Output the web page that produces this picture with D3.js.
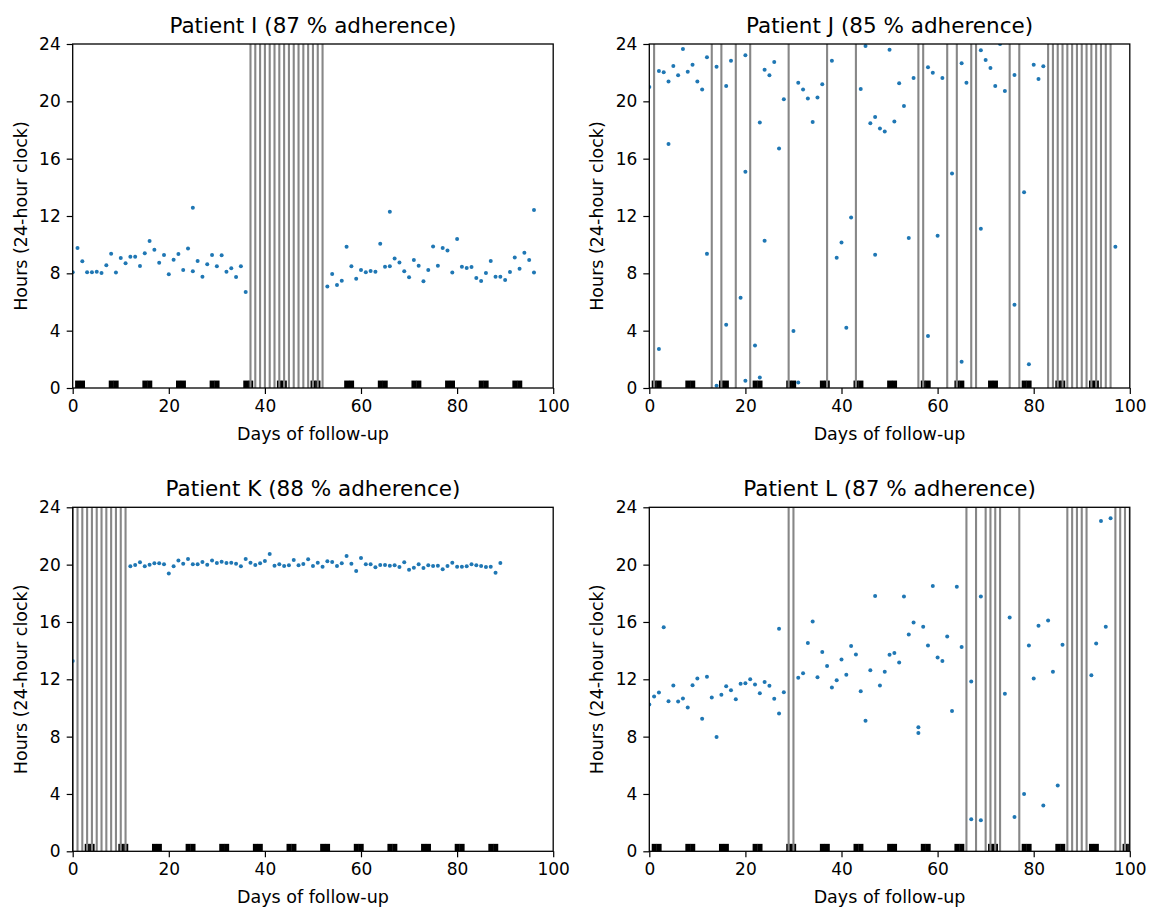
<!DOCTYPE html>
<html>
<head>
<meta charset="utf-8">
<script src="https://cdn.jsdelivr.net/npm/d3@7"></script>
<style>
  body { margin: 0; background: #fff; }
  text { font-family: "DejaVu Sans", sans-serif; fill: #000; }
</style>
</head>
<body>
<div id="chart"></div>
<script>
// tick labels
var dayTicks = [0, 20, 40, 60, 80, 100];
var hourTicks = [0, 4, 8, 12, 16, 20, 24];

// [day, hour of intake] per patient
var iDoses = [
  [0,8.07],[1,9.77],[2,8.84],[3,8.07],[4,8.07],[5,8.11],[6,8.02],[7,8.56],[8,9.37],[9,8.05],
  [10,9.07],[11,8.70],[12,9.16],[13,9.16],[14,8.51],[15,9.40],[16,10.26],[17,9.65],[18,8.74],[19,9.28],
  [20,7.93],[21,8.95],[22,9.35],[23,8.23],[24,9.74],[25,12.58],[25,8.14],[26,8.86],[27,7.77],[28,8.63],
  [29,9.28],[30,8.49],[31,9.26],[32,8.11],[33,8.35],[34,7.74],[35,8.49],[36,6.70],
  [53,7.09],[54,7.95],[55,7.19],[56,7.49],[57,9.86],[58,8.49],[59,7.63],[60,8.23],[61,8.07],[62,8.16],
  [63,8.11],[64,10.07],[65,8.46],[66,12.29],[66,8.49],[67,9.04],[68,8.76],[69,8.14],[70,7.72],[71,8.93],
  [72,8.53],[73,7.44],[74,8.23],[75,9.88],[76,8.53],[77,9.77],[78,9.60],[79,8.05],[80,10.39],[81,8.46],
  [82,8.37],[83,8.44],[84,7.67],[85,7.46],[86,8.02],[87,8.86],[88,7.77],[89,7.77],[90,7.53],[91,8.09],
  [92,9.11],[93,8.32],[94,9.44],[95,8.93],[96,12.41],[96,8.05]
];
var iMissed = [37,38,39,40,41,42,43,44,45,46,47,48,49,50,51,52];
var iWeekend = [1,2,8,9,15,16,22,23,29,30,36,37,43,44,50,51,57,58,64,65,71,72,78,79,85,86,92,93];

var jDoses = [
  [0,21.0],[2,22.12],[2,2.72],[3,22.03],[4,21.38],[4,17.03],[5,22.47],[6,21.82],[7,23.65],[8,22.07],
  [9,22.56],[10,21.38],[11,20.82],[12,23.07],[12,9.36],[14,22.42],[14,0.16],[16,21.07],[16,4.41],[17,22.84],
  [19,6.30],[20,23.21],[20,15.08],[20,0.51],[22,2.97],[23,18.52],[23,0.74],[24,22.21],[24,10.27],[25,21.82],
  [26,22.75],[27,16.71],[28,20.14],[30,3.97],[31,21.3],[31,0.39],[32,20.82],[33,20.19],[34,18.56],[35,20.26],
  [36,21.19],[38,22.84],[39,9.08],[40,10.15],[41,4.21],[42,11.9],[44,20.86],[45,23.86],[46,18.47],[47,18.91],
  [47,9.29],[48,18.1],[49,17.89],[50,23.6],[51,18.59],[52,21.26],[53,19.68],[54,10.46],[55,21.63],[58,22.37],
  [58,3.62],[59,22.0],[60,10.62],[61,21.63],[63,14.96],[65,22.65],[65,1.84],[66,21.3],[69,23.56],[69,11.11],
  [70,22.89],[71,22.33],[72,21.07],[73,24.0],[74,20.72],[76,21.84],[76,5.81],[78,13.66],[79,1.65],[80,22.56],
  [81,21.56],[82,22.44],[97,9.85]
];
var jMissed = [1,13,15,18,21,29,37,43,56,57,62,64,67,68,75,77,
  83,84,85,86,87,88,89,90,91,92,93,94,95,96];
var jWeekend = [1,2,8,9,15,16,22,23,29,30,36,37,43,44,50,51,57,58,64,65,71,72,78,79,85,86,92,93];

var kDoses = [
  [0,13.27],
  [12,19.88],[13,19.97],[14,20.16],[15,19.88],[16,20.0],[17,20.09],[18,20.09],[19,20.02],[20,19.39],[21,19.88],
  [22,20.28],[23,20.07],[24,20.39],[25,20.02],[26,20.02],[27,20.18],[28,20.0],[29,20.28],[30,20.11],[31,20.2],
  [32,20.11],[33,20.14],[34,20.07],[35,19.88],[36,20.39],[37,20.14],[38,19.97],[39,20.09],[40,20.25],[41,20.74],
  [42,19.93],[43,20.02],[44,19.9],[45,19.95],[46,20.32],[47,19.95],[48,20.04],[49,20.37],[50,19.9],[51,20.14],
  [52,19.86],[53,20.23],[54,20.18],[55,19.9],[56,20.09],[57,20.6],[58,20.07],[59,19.55],[60,20.46],[61,20.02],
  [62,20.02],[63,19.81],[64,19.97],[65,19.97],[66,19.93],[67,19.95],[68,19.83],[69,20.16],[70,19.65],[71,19.79],
  [72,20.02],[73,19.76],[74,19.95],[75,19.9],[76,19.93],[77,19.67],[78,19.9],[79,20.14],[80,19.86],[81,19.86],
  [82,19.88],[83,20.02],[84,19.95],[85,19.9],[86,19.83],[87,19.86],[88,19.44],[89,20.11]
];
var kMissed = [0,1,2,3,4,5,6,7,8,9,10,11];
var kWeekend = [3,4,10,11,17,18,24,25,31,32,38,39,45,46,52,53,59,60,66,67,73,74,80,81,87,88];

var lDoses = [
  [0,10.24],[1,10.8],[2,11.08],[3,15.64],[4,10.47],[5,11.57],[6,10.45],[7,10.66],[8,10.03],[9,11.59],
  [10,12.06],[11,9.24],[12,12.17],[13,10.73],[14,7.98],[15,10.92],[16,11.52],[17,11.24],[18,10.61],[19,11.69],
  [20,11.73],[21,12.01],[22,11.64],[23,11.03],[24,11.82],[25,11.55],[26,10.64],[27,15.53],[27,9.61],[28,11.1],
  [31,12.1],[32,12.43],[33,14.53],[34,16.04],[35,12.15],[36,13.9],[37,12.92],[38,11.43],[39,11.94],[40,13.38],
  [41,12.31],[42,14.32],[43,13.73],[44,11.17],[45,9.1],[46,12.64],[47,17.81],[48,11.57],[49,12.52],[50,13.71],
  [51,13.83],[52,13.18],[53,17.78],[54,15.13],[55,15.97],[56,8.66],[56,8.26],[57,15.67],[58,14.36],[59,18.51],
  [60,13.52],[61,13.27],[62,14.99],[63,9.78],[64,18.46],[65,14.25],[67,11.85],[67,2.23],[69,17.78],[69,2.16],
  [74,10.99],[75,16.32],[76,2.4],[78,4.0],[79,14.36],[80,12.06],[81,15.74],[82,3.19],[83,16.11],[84,12.52],
  [85,4.59],[86,14.41],[92,12.29],[93,14.5],[94,23.04],[95,15.67],[96,23.23]
];
var lMissed = [29,30,66,68,70,71,72,73,77,87,88,89,90,91,97,98,99,100];
var lWeekend = [1,2,8,9,15,16,22,23,29,30,36,37,43,44,50,51,57,58,64,65,71,72,78,79,85,86,92,93,99,100];

var panels = [
  {title: "Patient I (87 % adherence)", doses: iDoses, missed: iMissed, weekend: iWeekend, left: 72.7, top: 44},
  {title: "Patient J (85 % adherence)", doses: jDoses, missed: jMissed, weekend: jWeekend, left: 649.3, top: 44},
  {title: "Patient K (88 % adherence)", doses: kDoses, missed: kMissed, weekend: kWeekend, left: 72.7, top: 507.3},
  {title: "Patient L (87 % adherence)", doses: lDoses, missed: lMissed, weekend: lWeekend, left: 649.3, top: 507.3}
];

var W = 1149, H = 908;
var pw = 480.5, ph = 344;

var svg = d3.select("#chart").append("svg")
  .attr("width", W).attr("height", H);

var x = d3.scaleLinear().domain([0, 100]).range([0, pw]);
var y = d3.scaleLinear().domain([0, 24]).range([ph, 0]);

panels.forEach(function(p, idx) {
  var g = svg.append("g").attr("transform", "translate(" + p.left + "," + p.top + ")");

  g.append("clipPath").attr("id", "clip" + idx)
    .append("rect").attr("width", pw).attr("height", ph);

  var plot = g.append("g").attr("clip-path", "url(#clip" + idx + ")");

  // weekend blocks along the bottom
  plot.selectAll("rect.wk")
    .data(p.weekend)
    .enter().append("rect")
    .attr("class", "wk")
    .attr("x", function(d) { return x(d - 0.5); })
    .attr("width", x(1) - x(0) + 0.3)
    .attr("y", y(0.52))
    .attr("height", y(0) - y(0.52))
    .attr("fill", "#000");

  // missed days
  plot.selectAll("line.miss")
    .data(p.missed)
    .enter().append("line")
    .attr("class", "miss")
    .attr("x1", function(d) { return x(d); })
    .attr("x2", function(d) { return x(d); })
    .attr("y1", 0).attr("y2", ph)
    .attr("stroke", "#878787")
    .attr("stroke-width", 2.1);

  // dose times
  plot.selectAll("circle")
    .data(p.doses)
    .enter().append("circle")
    .attr("cx", function(d) { return x(d[0]); })
    .attr("cy", function(d) { return y(d[1]); })
    .attr("r", 2)
    .attr("fill", "#1f77b4");

  var xAxis = g.append("g").attr("transform", "translate(0," + ph + ")")
    .call(d3.axisBottom(x).tickValues(dayTicks).tickSize(6).tickPadding(6).tickSizeOuter(0));
  var yAxis = g.append("g")
    .call(d3.axisLeft(y).tickValues(hourTicks).tickSize(6).tickPadding(6).tickSizeOuter(0));
  [xAxis, yAxis].forEach(function(a) {
    a.select(".domain").remove();
    a.selectAll("line").attr("stroke", "#000").attr("stroke-width", 1.2);
    a.selectAll("text").attr("font-size", 17).attr("font-family", "DejaVu Sans");
  });

  // frame
  g.append("rect").attr("width", pw).attr("height", ph)
    .attr("fill", "none").attr("stroke", "#000").attr("stroke-width", 1.3);

  g.append("text")
    .attr("x", pw / 2).attr("y", -11)
    .attr("text-anchor", "middle")
    .attr("font-size", 21.5)
    .text(p.title);

  g.append("text")
    .attr("x", pw / 2).attr("y", ph + 52)
    .attr("text-anchor", "middle")
    .attr("font-size", 17.5)
    .text("Days of follow-up");

  g.append("text")
    .attr("transform", "translate(-46," + (ph / 2) + ") rotate(-90)")
    .attr("text-anchor", "middle")
    .attr("font-size", 17.5)
    .text("Hours (24-hour clock)");
});
</script>
</body>
</html>
